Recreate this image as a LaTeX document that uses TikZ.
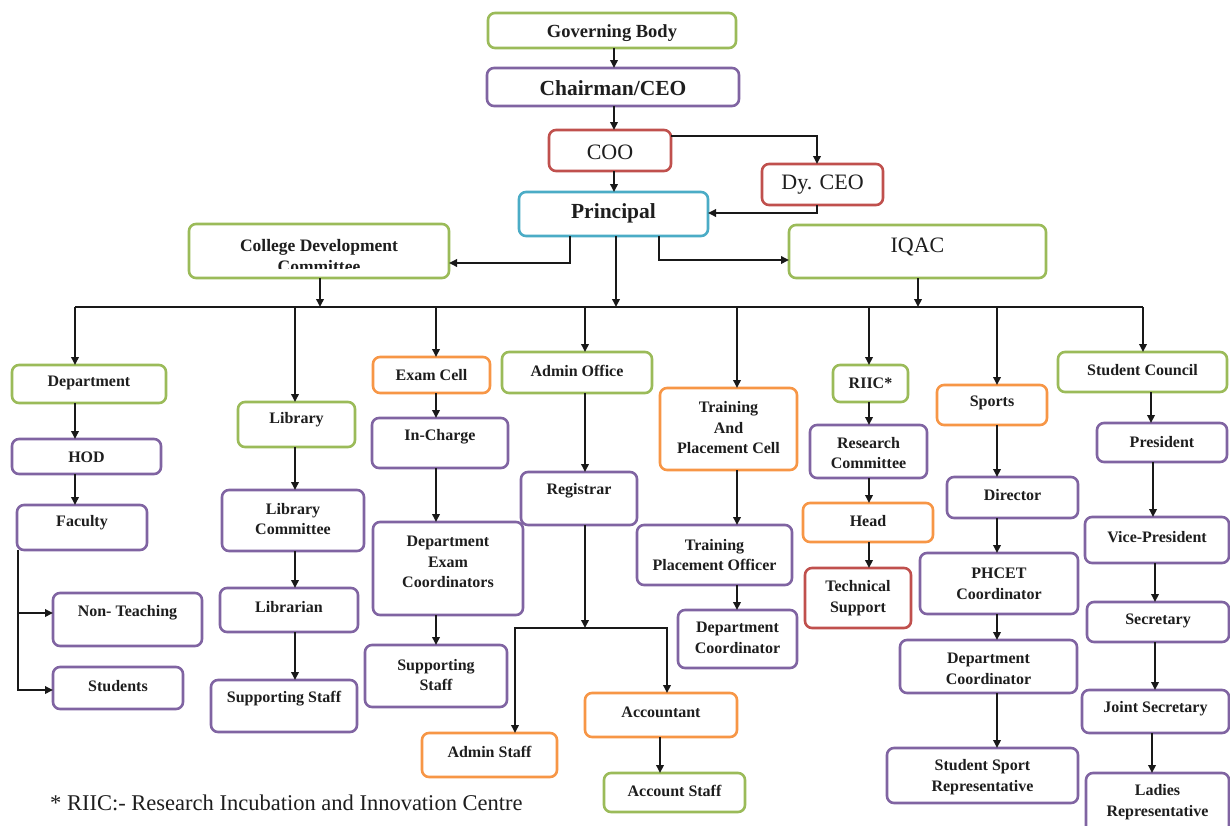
\documentclass[tikz,border=0pt]{standalone}
\usepackage{fontspec}
\setmainfont{Liberation Serif}
\usetikzlibrary{arrows.meta}
\definecolor{cgreen}{RGB}{155,187,89}
\definecolor{cpurple}{RGB}{128,100,162}
\definecolor{cred}{RGB}{192,80,77}
\definecolor{corange}{RGB}{247,150,70}
\definecolor{cblue}{RGB}{75,172,198}
\definecolor{txt}{RGB}{30,30,30}
\definecolor{ln}{RGB}{25,25,25}
\newcommand\bx[6]{\node[#6, minimum width={(#4-#2)*1pt}, minimum height={(#5-#3)*1pt}] (#1) at ({(#2+#4)/2},{(#3+#5)/2}) {};}
\newcommand\tl[4]{\node[#3] (#1t) at (#1 |- 0,#2) {#4};}
\tikzset{
 box/.style={draw, line width=2.6pt, rounded corners=7pt, fill=white, inner sep=0pt, outer sep=0pt},
 gbox/.style={box, draw=cgreen}, pbox/.style={box, draw=cpurple}, rbox/.style={box, draw=cred},
 obox/.style={box, draw=corange}, bbox/.style={box, draw=cblue},
 lbl/.style={font=\fontsize{16}{20.5}\selectfont\bfseries, align=center, inner sep=0pt, text=txt},
 big/.style={lbl, font=\fontsize{21.5}{26}\selectfont\bfseries},
 regl/.style={lbl, font=\fontsize{22}{26}\selectfont},
 conn/.style={draw=ln, line width=1.8pt, -{Triangle[length=8pt,width=7.5pt]}},
 wire/.style={draw=ln, line width=1.8pt},
}
\begin{document}
\begin{tikzpicture}[x=1pt,y=-1pt]
\clip (0,0) rectangle (1230,825);
\fill[white] (0,0) rectangle (1230,825);
% ---- top
\bx{gb}{488}{13}{736}{48}{gbox}
\tl{gb}{33}{lbl, font=\fontsize{18.5}{22}\selectfont\bfseries}{Governing Body}
\bx{chair}{487}{68}{739}{106}{pbox}
\tl{chair}{88}{big}{Chairman/CEO}
\bx{coo}{549}{130}{671}{171}{rbox}
\tl{coo}{152}{regl}{COO}
\bx{dyceo}{762}{164}{883}{205}{rbox}
\tl{dyceo}{185}{regl}{Dy. CEO}
\bx{prin}{519}{192}{708}{236}{bbox}
\tl{prin}{213}{big}{Principal}
\bx{cdc}{189}{224}{449}{278}{gbox}
\begin{scope}
\clip (189,224) rectangle (449,268);
\tl{cdc}{256}{lbl, font=\fontsize{17.5}{21}\selectfont\bfseries}{College Development\\Committee}
\end{scope}
\bx{iqac}{789}{225}{1046}{278}{gbox}
\tl{iqac}{247}{regl}{IQAC}
\draw[conn] (gb.south -| 614,0) -- (chair.north -| 614,0);
\draw[conn] (chair.south -| 614,0) -- (coo.north -| 614,0);
\draw[conn] (coo.south -| 614,0) -- (prin.north -| 614,0);
\draw[conn] (coo.east |- 0,136) -| (dyceo.north -| 817,0);
\draw[conn] (dyceo.south -| 817,0) |- (prin.east |- 0,213);
\draw[conn] (prin.south -| 570,0) |- (cdc.east |- 0,263);
\draw[conn] (prin.south -| 659,0) |- (iqac.west |- 0,260);
% ---- bus
\coordinate (busL) at (75,307);
\coordinate (busR) at (1143,307);
\draw[wire] (busL) -- (busR);
\draw[conn] (prin.south -| 616,0) -- (busL -| 616,0);
\draw[conn] (cdc.south -| 320,0) -- (busL -| 320,0);
\draw[conn] (iqac.south -| 918,0) -- (busL -| 918,0);
% ---- column 1
\bx{dept}{12}{365}{166}{403}{gbox}
\tl{dept}{383}{lbl}{Department}
\bx{hod}{12}{439}{161}{474}{pbox}
\tl{hod}{457}{lbl}{HOD}
\bx{fac}{17}{505}{147}{550}{pbox}
\tl{fac}{523}{lbl}{Faculty}
\bx{nont}{53}{593}{202}{646}{pbox}
\tl{nont}{613}{lbl}{Non- Teaching}
\bx{stud}{53}{667}{183}{709}{pbox}
\tl{stud}{686}{lbl}{Students}
\draw[conn] (busL) -- (dept.north -| busL);
\draw[conn] (dept.south -| 75,0) -- (hod.north -| 75,0);
\draw[conn] (hod.south -| 75,0) -- (fac.north -| 75,0);
\draw[conn] (fac.south -| 18,0) |- (nont.west |- 0,613);
\draw[conn] (fac.south -| 18,0) |- (stud.west |- 0,690);
% ---- column 2
\bx{lib}{238}{402}{355}{447}{gbox}
\tl{lib}{420}{lbl}{Library}
\bx{libc}{222}{490}{364}{551}{pbox}
\tl{libc}{519}{lbl}{Library\\Committee}
\bx{libn}{220}{588}{358}{632}{pbox}
\tl{libn}{607}{lbl}{Librarian}
\bx{libs}{211}{680}{357}{732}{pbox}
\tl{libs}{699}{lbl}{Supporting Staff}
\draw[conn] (busL -| 295,0) -- (lib.north -| 295,0);
\draw[conn] (lib.south -| 295,0) -- (libc.north -| 295,0);
\draw[conn] (libc.south -| 295,0) -- (libn.north -| 295,0);
\draw[conn] (libn.south -| 295,0) -- (libs.north -| 295,0);
% ---- column 3
\bx{exam}{373}{357}{490}{393}{obox}
\tl{exam}{375}{lbl}{Exam Cell}
\bx{inch}{372}{418}{508}{468}{pbox}
\tl{inch}{437}{lbl}{In-Charge}
\bx{dec}{373}{522}{523}{615}{pbox}
\tl{dec}{562}{lbl}{Department\\Exam\\Coordinators}
\bx{exs}{365}{645}{507}{707}{pbox}
\tl{exs}{675}{lbl}{Supporting\\Staff}
\draw[conn] (busL -| 436,0) -- (exam.north -| 436,0);
\draw[conn] (exam.south -| 436,0) -- (inch.north -| 436,0);
\draw[conn] (inch.south -| 436,0) -- (dec.north -| 436,0);
\draw[conn] (dec.south -| 436,0) -- (exs.north -| 436,0);
% ---- column 4
\bx{admin}{502}{352}{652}{393}{gbox}
\tl{admin}{371}{lbl}{Admin Office}
\bx{reg}{521}{472}{637}{525}{pbox}
\tl{reg}{491}{lbl}{Registrar}
\bx{astaff}{422}{733}{557}{777}{obox}
\tl{astaff}{752}{lbl}{Admin Staff}
\bx{acct}{585}{693}{737}{737}{obox}
\tl{acct}{712}{lbl}{Accountant}
\bx{accs}{604}{773}{745}{812}{gbox}
\tl{accs}{791}{lbl}{Account Staff}
\coordinate (split) at (585,628);
\draw[conn] (busL -| 585,0) -- (admin.north -| 585,0);
\draw[conn] (admin.south -| 585,0) -- (reg.north -| 585,0);
\draw[conn] (reg.south -| 585,0) -- (split);
\draw[conn] (split) -| (astaff.north -| 515,0);
\draw[conn] (split) -| (acct.north -| 667,0);
\draw[conn] (acct.south -| 660,0) -- (accs.north -| 660,0);
% ---- column 5
\bx{tpc}{660}{388}{797}{470}{obox}
\tl{tpc}{428}{lbl}{Training\\And\\Placement Cell}
\bx{tpo}{637}{525}{792}{585}{pbox}
\tl{tpo}{555}{lbl}{Training\\Placement Officer}
\bx{tdc}{678}{610}{797}{668}{pbox}
\tl{tdc}{638}{lbl}{Department\\Coordinator}
\draw[conn] (busL -| 737,0) -- (tpc.north -| 737,0);
\draw[conn] (tpc.south -| 737,0) -- (tpo.north -| 737,0);
\draw[conn] (tpo.south -| 737,0) -- (tdc.north -| 737,0);
% ---- column 6
\bx{riic}{833}{365}{908}{402}{gbox}
\tl{riic}{383}{lbl}{RIIC*}
\bx{rc}{810}{425}{927}{478}{pbox}
\tl{rc}{453}{lbl}{Research\\Committee}
\bx{head}{803}{503}{933}{542}{obox}
\tl{head}{521}{lbl}{Head}
\bx{ts}{805}{568}{911}{628}{rbox}
\tl{ts}{598}{lbl}{Technical\\Support}
\draw[conn] (busL -| 869,0) -- (riic.north -| 869,0);
\draw[conn] (riic.south -| 869,0) -- (rc.north -| 869,0);
\draw[conn] (rc.south -| 869,0) -- (head.north -| 869,0);
\draw[conn] (head.south -| 869,0) -- (ts.north -| 869,0);
% ---- column 7
\bx{sports}{937}{385}{1047}{425}{obox}
\tl{sports}{403}{lbl}{Sports}
\bx{dir}{947}{477}{1078}{518}{pbox}
\tl{dir}{495}{lbl}{Director}
\bx{phcet}{920}{553}{1078}{614}{pbox}
\tl{phcet}{584}{lbl}{PHCET\\Coordinator}
\bx{sdc}{900}{640}{1077}{693}{pbox}
\tl{sdc}{669}{lbl}{Department\\Coordinator}
\bx{ssr}{887}{748}{1078}{803}{pbox}
\tl{ssr}{777}{lbl}{Student Sport\\Representative}
\draw[conn] (busL -| 997,0) -- (sports.north -| 997,0);
\draw[conn] (sports.south -| 997,0) -- (dir.north -| 997,0);
\draw[conn] (dir.south -| 997,0) -- (phcet.north -| 997,0);
\draw[conn] (phcet.south -| 997,0) -- (sdc.north -| 997,0);
\draw[conn] (sdc.south -| 997,0) -- (ssr.north -| 997,0);
% ---- column 8
\bx{sc}{1058}{352}{1227}{392}{gbox}
\tl{sc}{370}{lbl}{Student Council}
\bx{pres}{1097}{423}{1227}{462}{pbox}
\tl{pres}{442}{lbl}{President}
\bx{vp}{1085}{517}{1229}{563}{pbox}
\tl{vp}{537}{lbl}{Vice-President}
\bx{sec}{1087}{602}{1229}{642}{pbox}
\tl{sec}{621}{lbl}{Secretary}
\bx{js}{1082}{690}{1229}{733}{pbox}
\tl{js}{709}{lbl}{Joint Secretary}
\bx{lr}{1086}{773}{1229}{840}{pbox}
\tl{lr}{802}{lbl}{Ladies\\Representative}
\draw[conn] (busR) -- (sc.north -| busR);
\draw[conn] (sc.south -| 1151,0) -- (pres.north -| 1151,0);
\draw[conn] (pres.south -| 1153,0) -- (vp.north -| 1153,0);
\draw[conn] (vp.south -| 1155,0) -- (sec.north -| 1155,0);
\draw[conn] (sec.south -| 1155,0) -- (js.north -| 1155,0);
\draw[conn] (js.south -| 1152,0) -- (lr.north -| 1152,0);
% ---- footnote
\node[anchor=west, inner sep=0pt, text=txt, font=\fontsize{22.5}{26}\selectfont] (note) at (50,803) {* RIIC:- Research Incubation and Innovation Centre};
\end{tikzpicture}
\end{document}
